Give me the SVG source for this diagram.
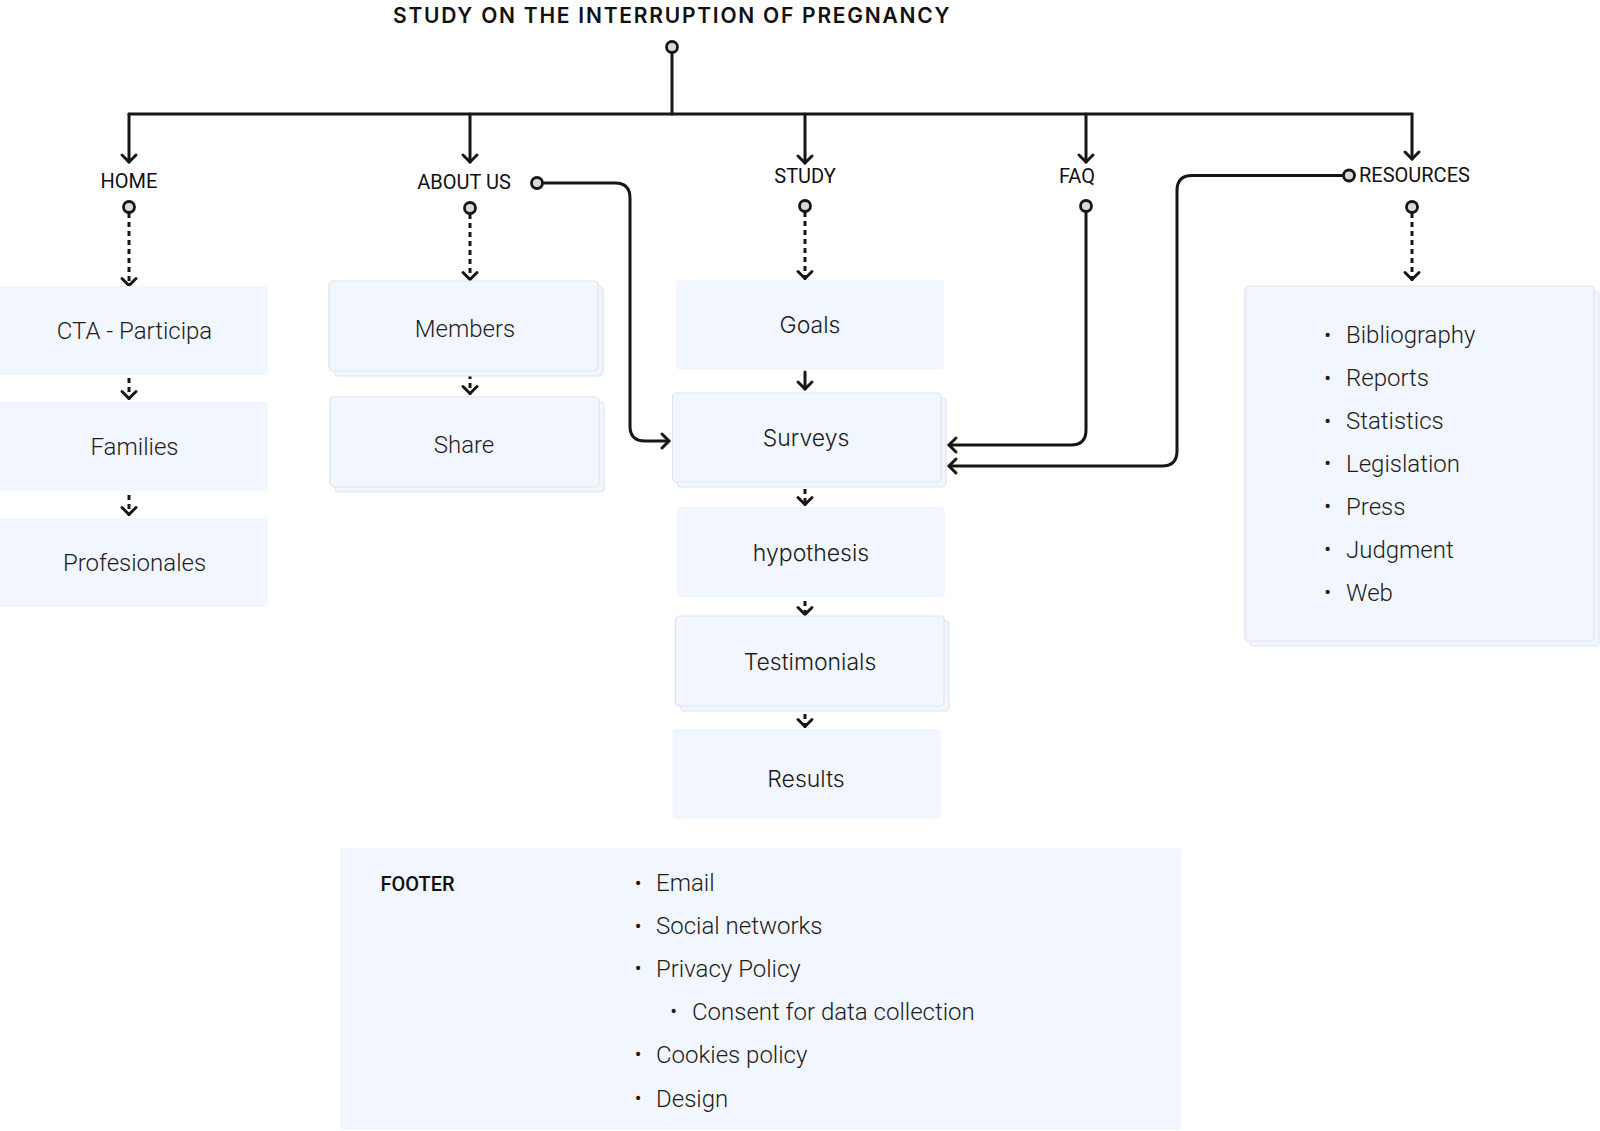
<svg xmlns="http://www.w3.org/2000/svg" width="1600" height="1131" viewBox="0 0 1600 1131">
<defs>
<style>
.bg{fill:#ffffff}
.card{fill:#f2f6fe}
.cardb{fill:#f2f6fe;stroke:#dfe3eb;stroke-width:1.2}
.line{fill:none;stroke:#161616;stroke-width:3;stroke-linecap:round;stroke-linejoin:round}
.dash{fill:none;stroke:#161616;stroke-width:3;stroke-dasharray:5 4}
.dot{fill:#d9d9d9;stroke:#161616;stroke-width:2.8}
.title{font-family:Inter,"Liberation Sans",sans-serif;font-weight:600;font-size:21px;fill:#111;letter-spacing:1.5px}
.lbl{font-family:Roboto,"Liberation Sans",sans-serif;font-weight:400;font-size:20px;fill:#111}
.lblb{font-family:Roboto,"Liberation Sans",sans-serif;font-weight:500;font-size:20px;fill:#111}
.txt{font-family:Roboto,"Liberation Sans",sans-serif;font-weight:300;font-size:24px;fill:#1c1c1c;text-anchor:middle}
.txti{font-family:Inter,"Liberation Sans",sans-serif;font-weight:300;font-size:23px;fill:#1c1c1c;text-anchor:middle}
.li{font-family:Roboto,"Liberation Sans",sans-serif;font-weight:300;font-size:24px;fill:#1c1c1c}
.bul{font-family:Roboto,"Liberation Sans",sans-serif;font-weight:400;font-size:20px;fill:#1c1c1c;text-anchor:middle}
</style>
<marker id="arr" markerUnits="userSpaceOnUse" markerWidth="20" markerHeight="20" viewBox="-10 -10 20 20" refX="0" refY="0" orient="auto">
<path d="M-7,-7 L0,0 L-7,7" fill="none" stroke="#161616" stroke-width="3" stroke-linecap="round" stroke-linejoin="round"/>
</marker>
</defs>
<rect class="bg" x="0" y="0" width="1600" height="1131"/>

<g id="title">
<text class="title" x="672" y="22.5" text-anchor="middle" textLength="558" lengthAdjust="spacing">STUDY ON THE INTERRUPTION OF PREGNANCY</text>
</g>

<g id="connectors">
<circle class="dot" cx="672" cy="47" r="5.5"/>
<path class="line" d="M672,52.5 V114"/>
<path class="line" d="M129,114 H1412"/>
<path class="line" d="M129,114 V162" marker-end="url(#arr)"/>
<path class="line" d="M470,114 V162" marker-end="url(#arr)"/>
<path class="line" d="M805,114 V163" marker-end="url(#arr)"/>
<path class="line" d="M1086,114 V162" marker-end="url(#arr)"/>
<path class="line" d="M1412,114 V159" marker-end="url(#arr)"/>

<circle class="dot" cx="129" cy="207" r="5.5"/>
<path class="dash" d="M129,213 V285"/>
<path class="line" d="M129,285 V285.5" marker-end="url(#arr)"/>
<circle class="dot" cx="470" cy="208" r="5.5"/>
<path class="dash" d="M470,214 V279"/>
<path class="line" d="M470,279 V279.5" marker-end="url(#arr)"/>
<circle class="dot" cx="805" cy="206" r="5.5"/>
<path class="dash" d="M805,212 V278"/>
<path class="line" d="M805,278 V278.5" marker-end="url(#arr)"/>
<circle class="dot" cx="1086" cy="206" r="5.5"/>
<circle class="dot" cx="1412" cy="207" r="5.5"/>
<path class="dash" d="M1412,213 V279"/>
<path class="line" d="M1412,279 V279.5" marker-end="url(#arr)"/>

<path class="dash" d="M129,378 V398"/><path class="line" d="M129,398 V398.5" marker-end="url(#arr)"/>
<path class="dash" d="M129,495 V514"/><path class="line" d="M129,514 V514.5" marker-end="url(#arr)"/>
<path class="dash" d="M470,374 V393"/><path class="line" d="M470,393 V393.5" marker-end="url(#arr)"/>
<path class="line" d="M805,372 V389" marker-end="url(#arr)"/>
<path class="dash" d="M805,489 V504"/><path class="line" d="M805,504 V504.5" marker-end="url(#arr)"/>
<path class="dash" d="M805,601 V614"/><path class="line" d="M805,614 V614.5" marker-end="url(#arr)"/>
<path class="dash" d="M805,714 V726"/><path class="line" d="M805,726 V726.5" marker-end="url(#arr)"/>

<circle class="dot" cx="537" cy="183" r="5.5"/>
<path class="line" d="M542.5,183 H615 Q630,183 630,198 V426 Q630,441 645,441 H669" marker-end="url(#arr)"/>
<path class="line" d="M1086,211.5 V430 Q1086,445 1071,445 H949" marker-end="url(#arr)"/>
<circle class="dot" cx="1349" cy="175.5" r="5.5"/>
<path class="line" d="M1343.5,175.5 H1192 Q1177,175.5 1177,190.5 V451 Q1177,466 1162,466 H949" marker-end="url(#arr)"/>
</g>

<g id="home">
<text class="lbl" x="129" y="187.5" text-anchor="middle">HOME</text>
</g>
<g id="about">
<text class="lbl" x="464" y="188.5" text-anchor="middle">ABOUT US</text>
</g>
<g id="study">
<text class="lbl" x="805" y="182.5" text-anchor="middle">STUDY</text>
</g>
<g id="faq">
<text class="lbl" x="1077" y="182.5" text-anchor="middle">FAQ</text>
</g>
<g id="resources">
<text class="lbl" x="1359" y="181.5">RESOURCES</text>
</g>

<g id="cta">
<rect class="card" x="-4" y="286" width="272" height="89" rx="4"/>
<text class="txt" x="134.5" y="338.5">CTA - Participa</text>
</g>
<g id="families">
<rect class="card" x="-4" y="402" width="272" height="89" rx="4"/>
<text class="txt" x="134.5" y="455">Families</text>
</g>
<g id="profesionales">
<rect class="card" x="-4" y="518" width="272" height="89" rx="4"/>
<text class="txt" x="134.5" y="571">Profesionales</text>
</g>

<g id="members">
<rect class="cardb" x="334" y="286" width="269" height="90" rx="4"/>
<rect class="cardb" x="329" y="281" width="269" height="90" rx="4"/>
<text class="txt" x="465" y="337">Members</text>
</g>
<g id="share">
<rect class="cardb" x="335" y="402" width="269" height="90" rx="4"/>
<rect class="cardb" x="330" y="397" width="269" height="90" rx="4"/>
<text class="txt" x="464" y="453">Share</text>
</g>

<g id="goals">
<rect class="card" x="675.5" y="280" width="268.5" height="90" rx="4"/>
<text class="txti" x="810" y="333">Goals</text>
</g>
<g id="surveys">
<rect class="cardb" x="677.5" y="398" width="268.5" height="89" rx="4"/>
<rect class="cardb" x="672.5" y="393" width="268.5" height="89" rx="4"/>
<text class="txti" x="806" y="445.5">Surveys</text>
</g>
<g id="hypothesis">
<rect class="card" x="676.5" y="507" width="268.5" height="90" rx="4"/>
<text class="txti" x="811" y="560.5">hypothesis</text>
</g>
<g id="testimonials">
<rect class="cardb" x="680.5" y="621" width="268.5" height="90" rx="4"/>
<rect class="cardb" x="675.5" y="616" width="268.5" height="90" rx="4"/>
<text class="txti" x="810" y="669.5">Testimonials</text>
</g>
<g id="results">
<rect class="card" x="672.5" y="729" width="268.5" height="90" rx="4"/>
<text class="txti" x="806" y="786.5">Results</text>
</g>

<g id="resources-list">
<rect class="cardb" x="1250" y="291" width="349" height="355" rx="4"/>
<rect class="cardb" x="1245" y="286" width="349" height="355" rx="4"/>
<text class="bul" x="1327.5" y="341.5">•</text><text class="li" x="1346" y="343">Bibliography</text>
<text class="bul" x="1327.5" y="384.5">•</text><text class="li" x="1346" y="386">Reports</text>
<text class="bul" x="1327.5" y="427.5">•</text><text class="li" x="1346" y="429">Statistics</text>
<text class="bul" x="1327.5" y="470">•</text><text class="li" x="1346" y="471.5">Legislation</text>
<text class="bul" x="1327.5" y="513">•</text><text class="li" x="1346" y="514.5">Press</text>
<text class="bul" x="1327.5" y="556">•</text><text class="li" x="1346" y="557.5">Judgment</text>
<text class="bul" x="1327.5" y="599">•</text><text class="li" x="1346" y="600.5">Web</text>
</g>

<g id="footer">
<rect class="card" x="340" y="848" width="841" height="282" rx="3"/>
<text class="lblb" x="380.5" y="891">FOOTER</text>
<text class="bul" x="638" y="889.5">•</text><text class="li" x="656" y="891">Email</text>
<text class="bul" x="638" y="932.5">•</text><text class="li" x="656" y="934">Social networks</text>
<text class="bul" x="638" y="975">•</text><text class="li" x="656" y="976.5">Privacy Policy</text>
<text class="bul" x="673.5" y="1018">•</text><text class="li" x="692" y="1019.5">Consent for data collection</text>
<text class="bul" x="638" y="1061">•</text><text class="li" x="656" y="1062.5">Cookies policy</text>
<text class="bul" x="638" y="1105">•</text><text class="li" x="656" y="1106.5">Design</text>
</g>
</svg>
